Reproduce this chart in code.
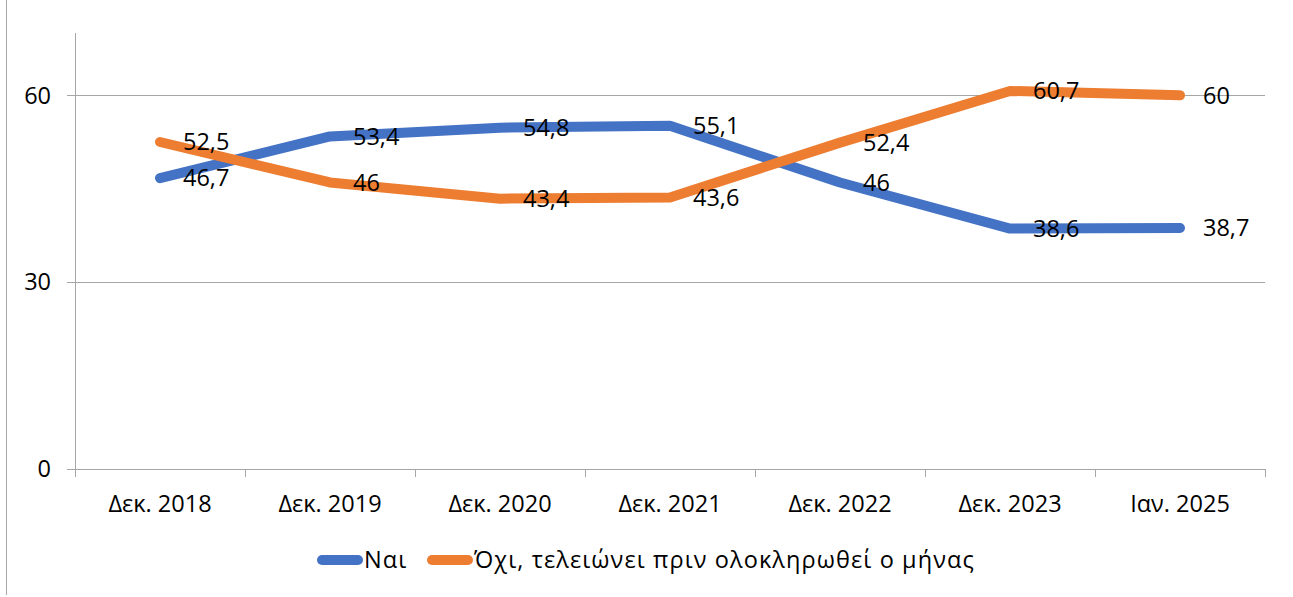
<!DOCTYPE html>
<html>
<head>
<meta charset="utf-8">
<script src="https://cdn.jsdelivr.net/npm/d3@7"></script>
<style>
  body { margin: 0; background: #fff; }
  svg { display: block; font-family: 'Open Sans', sans-serif; }
</style>
</head>
<body>
<div id="chart-area"></div>
<script>
const width = 1293;
const height = 597;

// data
const periods = ['Δεκ. 2018', 'Δεκ. 2019', 'Δεκ. 2020', 'Δεκ. 2021', 'Δεκ. 2022', 'Δεκ. 2023', 'Ιαν. 2025'];
const yesValues = [46.7, 53.4, 54.8, 55.1, 46, 38.6, 38.7];
const noValues = [52.5, 46, 43.4, 43.6, 52.4, 60.7, 60];
const seriesNames = ['Ναι', 'Όχι, τελειώνει πριν ολοκληρωθεί ο μήνας'];
const yTicks = [0, 30, 60];

const colors = ['#4472C4', '#ED7D31'];
const margin = { top: 33, right: 28, bottom: 128, left: 75 };
const fontSize = 23.5;

const svg = d3
  .select('#chart-area')
  .append('svg')
  .attr('width', width)
  .attr('height', height);

// outer frame edge
svg
  .append('line')
  .attr('x1', 6.5)
  .attr('x2', 6.5)
  .attr('y1', 0)
  .attr('y2', 595)
  .attr('stroke', '#a6a6a6')
  .attr('stroke-width', 1);

const x = d3
  .scaleBand()
  .domain(periods)
  .range([margin.left, width - margin.right]);

const y = d3
  .scaleLinear()
  .domain([0, 70])
  .range([height - margin.bottom, margin.top]);

// gridlines
svg
  .append('g')
  .selectAll('line')
  .data(yTicks)
  .join('line')
  .attr('x1', margin.left - 8)
  .attr('x2', width - margin.right)
  .attr('y1', (d) => Math.round(y(d)) + 0.5)
  .attr('y2', (d) => Math.round(y(d)) + 0.5)
  .attr('stroke', '#a6a6a6')
  .attr('stroke-width', 1);

// y axis line
svg
  .append('line')
  .attr('x1', margin.left + 0.5)
  .attr('x2', margin.left + 0.5)
  .attr('y1', margin.top)
  .attr('y2', Math.round(y(0)) + 0.5)
  .attr('stroke', '#a6a6a6');

// y tick labels
svg
  .append('g')
  .selectAll('text')
  .data(yTicks)
  .join('text')
  .attr('x', 51)
  .attr('y', (d) => y(d))
  .attr('dy', '0.35em')
  .attr('text-anchor', 'end')
  .attr('font-size', fontSize)
  .attr('fill', '#000')
  .text((d) => d);

// x tick marks between categories
const tickPos = periods.map((p) => x(p)).concat([x.range()[1]]);
svg
  .append('g')
  .selectAll('line')
  .data(tickPos)
  .join('line')
  .attr('x1', (d) => Math.round(d) + 0.5)
  .attr('x2', (d) => Math.round(d) + 0.5)
  .attr('y1', Math.round(y(0)))
  .attr('y2', Math.round(y(0)) + 8)
  .attr('stroke', '#a6a6a6');

// x labels
svg
  .append('g')
  .selectAll('text')
  .data(periods)
  .join('text')
  .attr('x', (d) => x(d) + x.bandwidth() / 2)
  .attr('y', 504)
  .attr('dy', '0.35em')
  .attr('text-anchor', 'middle')
  .attr('font-size', fontSize)
  .attr('fill', '#000')
  .text((d) => d);

const line = d3
  .line()
  .x((d, i) => x(periods[i]) + x.bandwidth() / 2)
  .y((d) => y(d));

const series = [yesValues, noValues];

series.forEach((vals, s) => {
  svg
    .append('path')
    .datum(vals)
    .attr('d', line)
    .attr('fill', 'none')
    .attr('stroke', colors[s])
    .attr('stroke-width', 10)
    .attr('stroke-linecap', 'round')
    .attr('stroke-linejoin', 'round');
});

// data labels (right of point)
series.forEach((vals) => {
  svg
    .append('g')
    .selectAll('text')
    .data(vals)
    .join('text')
    .attr('x', (d, i) => x(periods[i]) + x.bandwidth() / 2 + 23)
    .attr('y', (d) => y(d))
    .attr('dy', '0.35em')
    .attr('font-size', fontSize)
    .attr('fill', '#000')
    .text((d) => String(d).replace('.', ','));
});

// legend
const legend = svg.append('g');
const legendItems = [
  { x: 318, name: seriesNames[0], color: colors[0] },
  { x: 428, name: seriesNames[1], color: colors[1] },
];
legendItems.forEach((item) => {
  legend
    .append('line')
    .attr('x1', item.x + 4)
    .attr('x2', item.x + 40)
    .attr('y1', 560)
    .attr('y2', 560)
    .attr('stroke', item.color)
    .attr('stroke-width', 10)
    .attr('stroke-linecap', 'round');
  legend
    .append('text')
    .attr('x', item.x + 46)
    .attr('y', 560)
    .attr('dy', '0.35em')
    .attr('font-size', fontSize)
    .attr('letter-spacing', 1.1)
    .attr('fill', '#000')
    .text(item.name);
});
</script>
</body>
</html>
